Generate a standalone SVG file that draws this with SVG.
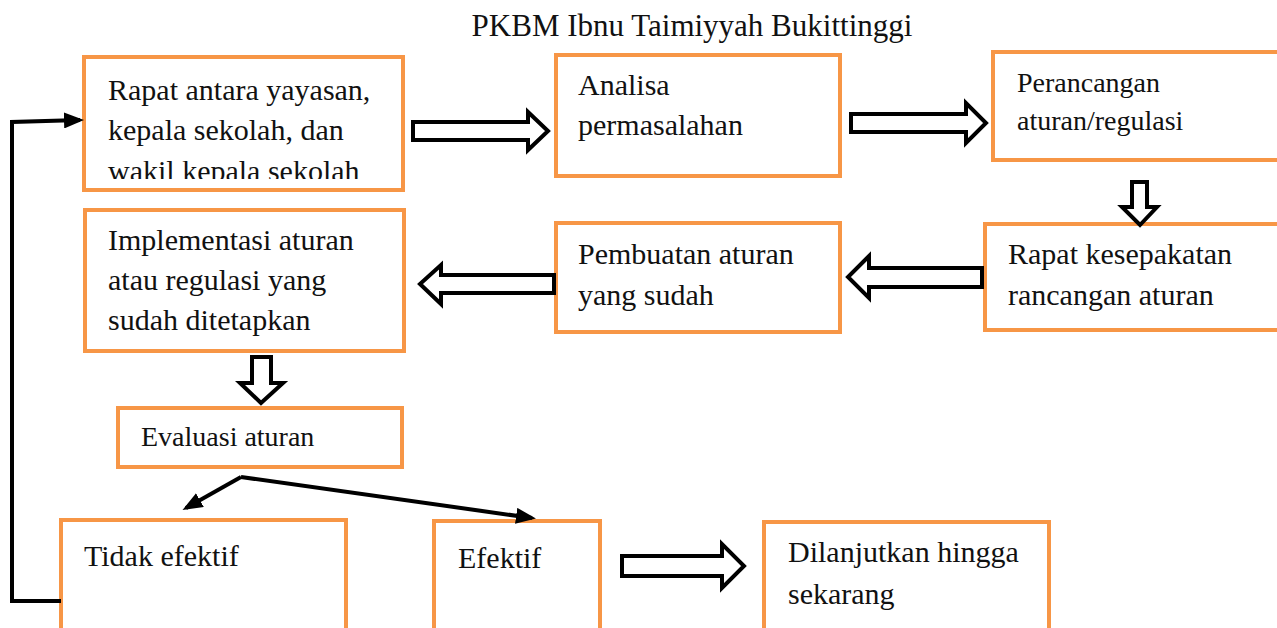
<svg xmlns="http://www.w3.org/2000/svg" width="1277" height="628" viewBox="0 0 1277 628">
<style>
.box{fill:#fff;stroke:#F79646;stroke-width:4}
.t{font-family:'Liberation Serif','DejaVu Serif',serif;font-size:30px;fill:#111}
.s{font-family:'Liberation Serif','DejaVu Serif',serif;font-size:28px;fill:#111}
.blk{fill:#fff;stroke:#000;stroke-width:4;stroke-linejoin:miter}
.ln{fill:none;stroke:#000;stroke-width:4}
</style>
<defs>
<marker id="ah" markerWidth="5" markerHeight="4" refX="4" refY="2" orient="auto" markerUnits="strokeWidth">
<path d="M0,0 L5,2 L0,4 Z" fill="#000"/>
</marker>
<clipPath id="c1"><rect x="86" y="59" width="315" height="120"/></clipPath>
</defs>
<rect width="1277" height="628" fill="#fff"/>
<text x="692" y="36" text-anchor="middle" class="t" style="font-size:31px">PKBM Ibnu Taimiyyah Bukittinggi</text>

<g id="n1">
<rect class="box" x="84" y="57" width="319" height="133"/>
<g clip-path="url(#c1)">
<text class="t" x="108" y="100">Rapat antara yayasan,</text>
<text class="t" x="108" y="140">kepala sekolah, dan</text>
<text class="t" x="108" y="181">wakil kepala sekolah</text>
</g>
</g>
<g id="n2">
<rect class="box" x="556" y="55" width="284" height="121"/>
<text class="t" x="578" y="95">Analisa</text>
<text class="t" x="578" y="135">permasalahan</text>
</g>
<g id="n3">
<rect class="box" x="993" y="52" width="290" height="108"/>
<text class="s" x="1017" y="92">Perancangan</text>
<text class="s" x="1017" y="130">aturan/regulasi</text>
</g>
<g id="n4">
<rect class="box" x="985" y="224" width="298" height="106"/>
<text class="t" x="1008" y="264">Rapat kesepakatan</text>
<text class="t" x="1008" y="305">rancangan aturan</text>
</g>
<g id="n5">
<rect class="box" x="556" y="223" width="284" height="109"/>
<text class="t" x="578" y="264">Pembuatan aturan</text>
<text class="t" x="578" y="305">yang sudah</text>
</g>
<g id="n6">
<rect class="box" x="85" y="210" width="319" height="141"/>
<text class="t" x="108" y="250">Implementasi aturan</text>
<text class="t" x="108" y="290">atau regulasi yang</text>
<text class="t" x="108" y="330">sudah ditetapkan</text>
</g>
<g id="n7">
<rect class="box" x="118" y="408" width="284" height="59"/>
<text class="s" x="141" y="446">Evaluasi aturan</text>
</g>
<g id="n8">
<rect class="box" x="61" y="520" width="285" height="115"/>
<text class="t" x="84" y="566">Tidak efektif</text>
</g>
<g id="n9">
<rect class="box" x="434" y="521" width="166" height="114"/>
<text class="t" x="458" y="568">Efektif</text>
</g>
<g id="n10">
<rect class="box" x="764" y="522" width="285" height="113"/>
<text class="t" x="788" y="562">Dilanjutkan hingga</text>
<text class="t" x="788" y="604">sekarang</text>
</g>

<g id="connectors">
<path class="blk" d="M413,122 H528 V112 L548,131 L528,150 V140 H413 Z"/>
<path class="blk" d="M851,114 H966 V103 L986,123 L966,143 V132 H851 Z"/>
<path class="blk" d="M1132,182 V207 H1122 L1140,225 L1157,207 H1147 V182 Z"/>
<path class="blk" d="M982,268 H869 V256 L848,277 L869,298 V287 H982 Z"/>
<path class="blk" d="M554,275 H441 V265 L420,284 L441,304 V293 H554 Z"/>
<path class="blk" d="M252,357 V383 H240 L261,403 L283,383 H271 V357 Z"/>
<path class="blk" d="M622,556 H722 V544 L744,566 L722,588 V576 H622 Z"/>
<path class="ln" d="M241,477 L186,508" marker-end="url(#ah)"/>
<path class="ln" d="M241,477 L532,518" marker-end="url(#ah)"/>
<path class="ln" d="M61,601 H12 V122 L80,120" marker-end="url(#ah)"/>
</g>
</svg>
